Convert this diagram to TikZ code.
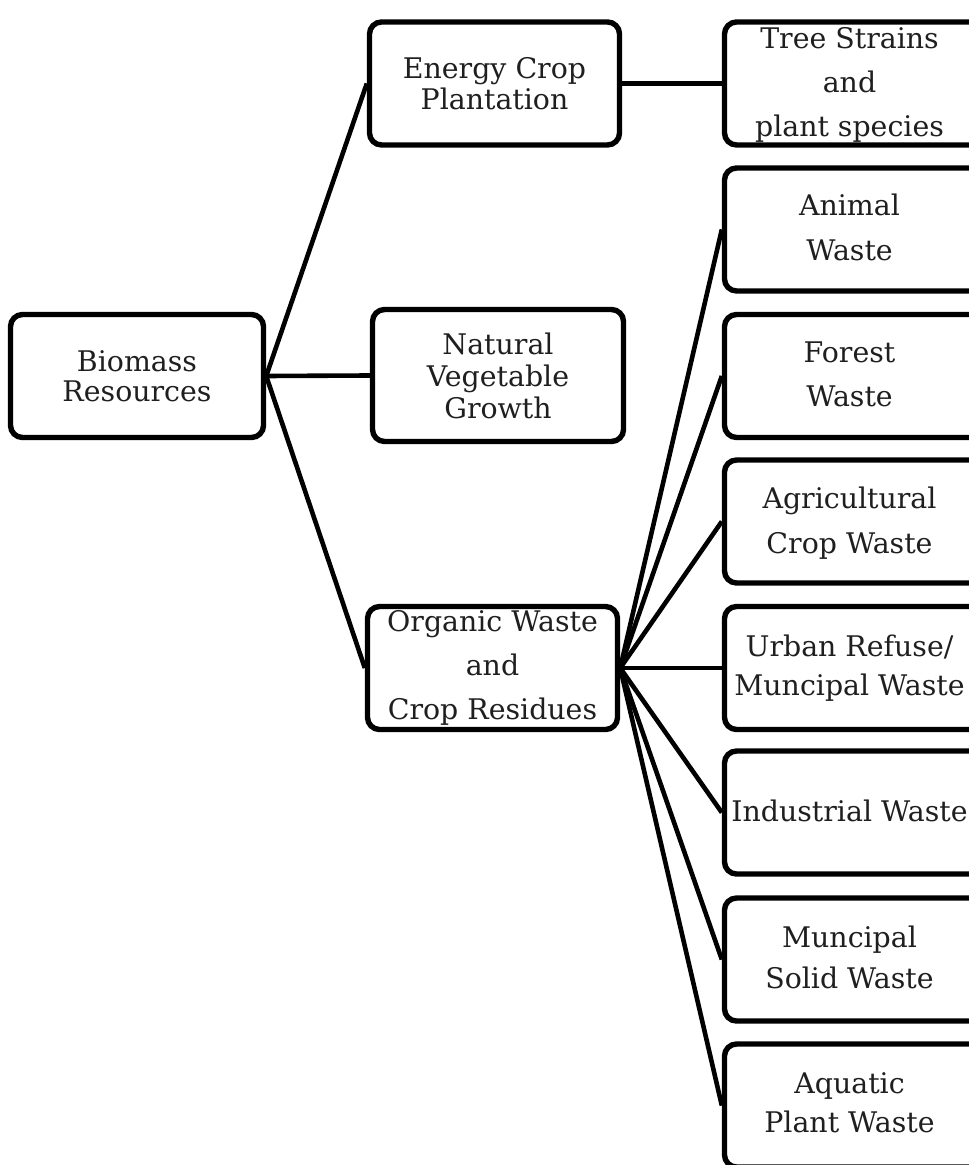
\documentclass[tikz,border=0pt]{standalone}
\usepackage{fontspec}
\setmainfont{DejaVu Serif}
\begin{document}
\begin{tikzpicture}[x=0.5pt,y=-0.5pt,
  box/.style={draw=black, line width=2.7pt, rounded corners=6pt, align=center,
    minimum width=125pt, minimum height=61.5pt, inner sep=0pt,
    text=black!88, font=\fontsize{14.2}{#1}\selectfont},
  box/.default=22pt,
  rbox/.style={draw=black, line width=2.7pt, rounded corners=6pt,
    minimum width=140pt, minimum height=61.5pt, inner sep=0pt,
    text=black!88, font=\fontsize{14.2}{#1}\selectfont},
  rbox/.default=22pt,
  link/.style={line width=2.3pt}]
\useasboundingbox[fill=white] (0,0) rectangle (968,1165);
% text of a right-hand box: centred lines, moved left so that the box runs past the edge
\newcommand{\rtext}[1]{\mbox{\begin{tabular}{@{}c@{}}#1\end{tabular}\hspace*{15pt}}}
% left and middle column
\node[box=15pt, minimum width=126.5pt] (bio) at (137,376) {Biomass\\Resources};
\node[box=15.5pt] (ecp) at (494.5,83.5) {Energy Crop\\Plantation};
\node[box=16pt, minimum width=125.5pt, minimum height=66pt] (nvg) at (498,375.5) {Natural\\Vegetable\\Growth};
\node[box=22pt] (owc) at (492.5,668) {Organic Waste\\and\\Crop Residues};
% right column (boxes run past the right edge of the picture)
\node[rbox=22pt, inner ysep=-2.4pt] (tree) at (864.5,83.5) {\rtext{Tree Strains\\and\\plant species}};
\node[rbox=22.5pt] (animal) at (864.5,229.5) {\rtext{Animal\\Waste}};
\node[rbox=22pt] (forest) at (864.5,376) {\rtext{Forest\\Waste}};
\node[rbox=22.5pt] (agri) at (864.5,521.5) {\rtext{Agricultural\\Crop Waste}};
\node[rbox=19.5pt] (urban) at (864.5,668) {\rtext{Urban Refuse/\\Muncipal Waste}};
\node[rbox] (indus) at (864.5,812.5) {\rtext{Industrial Waste}};
\node[rbox=20.5pt] (msw) at (864.5,959.5) {\rtext{Muncipal\\Solid Waste}};
\node[rbox=19.5pt] (aqua) at (864.5,1105.5) {\rtext{Aquatic\\Plant Waste}};
% connectors
\draw[link] (bio.east) -- (ecp.west);
\draw[link] (bio.east) -- (nvg.west);
\draw[link] (bio.east) -- (owc.west);
\draw[link] (ecp.east) -- (tree.west);
\foreach \t in {animal,forest,agri,urban,indus,msw,aqua}
  \draw[link] (owc.east) -- (\t.west);
\end{tikzpicture}
\end{document}
